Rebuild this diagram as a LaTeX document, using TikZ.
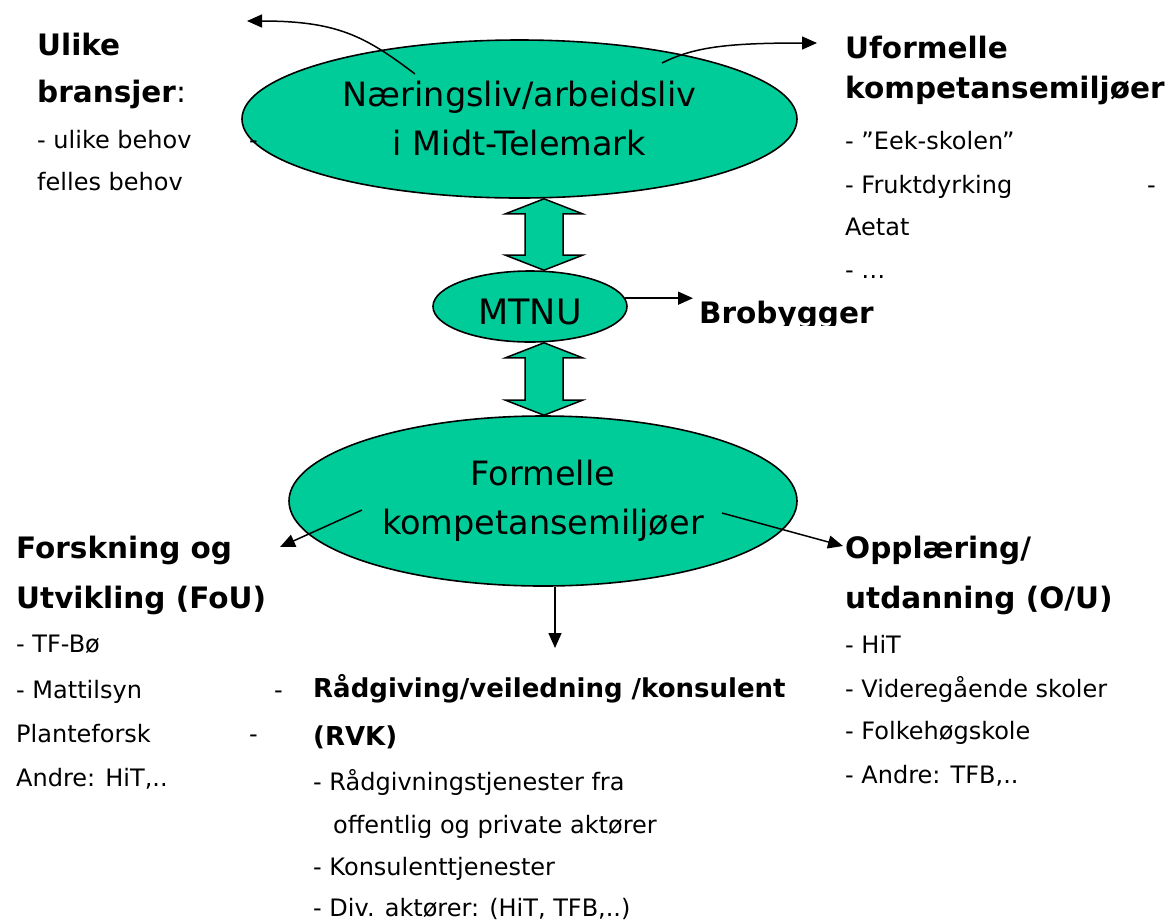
\documentclass[tikz,border=0pt]{standalone}
\usepackage{fontspec}
\setmainfont{DejaVu Sans}
\usetikzlibrary{shapes.geometric,arrows.meta,calc}
\definecolor{mtgreen}{HTML}{00CC99}
\tikzset{
  body/.style={anchor=base west, inner sep=0pt, font=\fontsize{24}{28}\selectfont},
  head/.style={anchor=base west, inner sep=0pt, font=\fontsize{29.5}{34}\selectfont\bfseries},
  headsmall/.style={head, font=\fontsize{26}{30}\selectfont\bfseries},
  bubble/.style={ellipse, draw=black, line width=1.6pt, fill=mtgreen, inner sep=0pt, align=center, font=\fontsize{33.5}{49}\selectfont},
  conn/.style={line width=1.5pt, -{Triangle[length=15pt,width=13pt]}},
  dbl/.style={draw=black, line width=1.5pt, fill=mtgreen, line join=miter}
}
\newcommand\mydblarrow[2]{\draw[dbl] (#1) -- ++(38.5,15) -- ++(-19.5,0) -- ($(#2)+(19,-15)$) -- ++(19.5,0) -- (#2) -- ++(-38.5,-15) -- ++(19.5,0) -- ($(#1)+(-19,15)$) -- ++(-19.5,0) -- cycle;}
\begin{document}
\begin{tikzpicture}[x=1pt,y=-1pt]
\useasboundingbox (0,0) rectangle (1167,922);
\fill[white] (0,0) rectangle (1167,922);

% ellipses
\node[bubble, minimum width=555pt, minimum height=158pt] (top) at (519.5,119) {Næringsliv/arbeidsliv\\i Midt-Telemark};
\node[bubble, minimum width=194pt, minimum height=71pt, font=\fontsize{35}{40}\selectfont] (mtnu) at (530,306.5) {\raisebox{-5pt}[25pt][0pt]{MTNU}};
\node[bubble, minimum width=508pt, minimum height=170pt] (bot) at (543,501) {Formelle\\kompetansemiljøer};

% double arrows
\coordinate (ax) at (544,0);
\mydblarrow{top.south -| ax}{mtnu.north -| ax}
\mydblarrow{mtnu.south -| ax}{bot.north -| ax}

% curved arrows from the top ellipse
\coordinate (la0) at (415,74);
\coordinate (la1) at (247,21);
\draw[conn] (la0) .. controls +(-50,-38) and +(90,0) .. (la1);
\coordinate (ra0) at (662,63);
\coordinate (ra1) at (817,43);
\draw[conn] (ra0) .. controls +(32,-16) and +(-90,0) .. (ra1);

% MTNU -> Brobygger
\begin{scope}
\clip (680,260) rectangle (900,325);
\node[head] (bro) at (699,323) {Brobygger};
\end{scope}
\coordinate (brt) at (693,0);
\draw[conn] (mtnu.5) -- (mtnu.5 -| brt);

% arrows from the bottom ellipse
\coordinate (bl0) at (362,510);
\coordinate (bl1) at (280,547);
\draw[conn] (bl0) -- (bl1);
\coordinate (br0) at (722,513);
\coordinate (br1) at (843,546);
\draw[conn] (br0) -- (br1);
\coordinate (dx) at (555,0);
\coordinate (dn1) at (555,648);
\draw[conn] (bot.south -| dx) -- (dn1);

% top left block
\node[head] (tl1) at (37,55) {Ulike};
\node[head] (tl2) at (37,102) {bransjer\mdseries:};
\node[body] (tl3) at (37,148) {- ulike behov};
\node[body] (tl3b) at (249,148) {-};
\node[body] (tl4) at (37,190) {felles behov};

% top right block
\node[head] (tr1) at (845,58) {Uformelle};
\node[head] (tr2) at (845,98) {kompetansemiljøer};
\node[body] (tr3) at (845,149) {- ”Eek-skolen”};
\node[body] (tr4) at (845,193) {- Fruktdyrking};
\node[body] (tr4b) at (1147,193) {-};
\node[body] (tr5) at (845,235) {Aetat};
\node[body] (tr6) at (845,278) {- …};

% bottom left block
\node[head] (bl1t) at (16,558) {Forskning og};
\node[head] (bl2t) at (16,608) {Utvikling (FoU)};
\node[body] (bl3t) at (16,652) {- TF-Bø};
\node[body] (bl4t) at (16,698) {- Mattilsyn};
\node[body] (bl4b) at (274,698) {-};
\node[body] (bl5t) at (16,742) {Planteforsk};
\node[body] (bl5b) at (249,742) {-};
\node[body] (bl6t) at (16,786) {Andre: HiT,..};

% bottom middle block
\node[headsmall] (bm1) at (313,697) {Rådgiving/veiledning /konsulent};
\node[headsmall] (bm2) at (313,745) {(RVK)};
\node[body] (bm3) at (313,790) {- Rådgivningstjenester fra};
\node[body] (bm4) at (333,833) {offentlig og private aktører};
\node[body] (bm5) at (313,875) {- Konsulenttjenester};
\node[body] (bm6) at (313,916) {- Div. aktører: (HiT, TFB,..)};

% bottom right block
\node[head] (br1t) at (845,558) {Opplæring/};
\node[head] (br2t) at (845,608) {utdanning (O/U)};
\node[body] (br3t) at (845,653) {- HiT};
\node[body] (br4t) at (845,697) {- Videregående skoler};
\node[body] (br5t) at (845,739) {- Folkehøgskole};
\node[body] (br6t) at (845,783) {- Andre: TFB,..};
\end{tikzpicture}
\end{document}
